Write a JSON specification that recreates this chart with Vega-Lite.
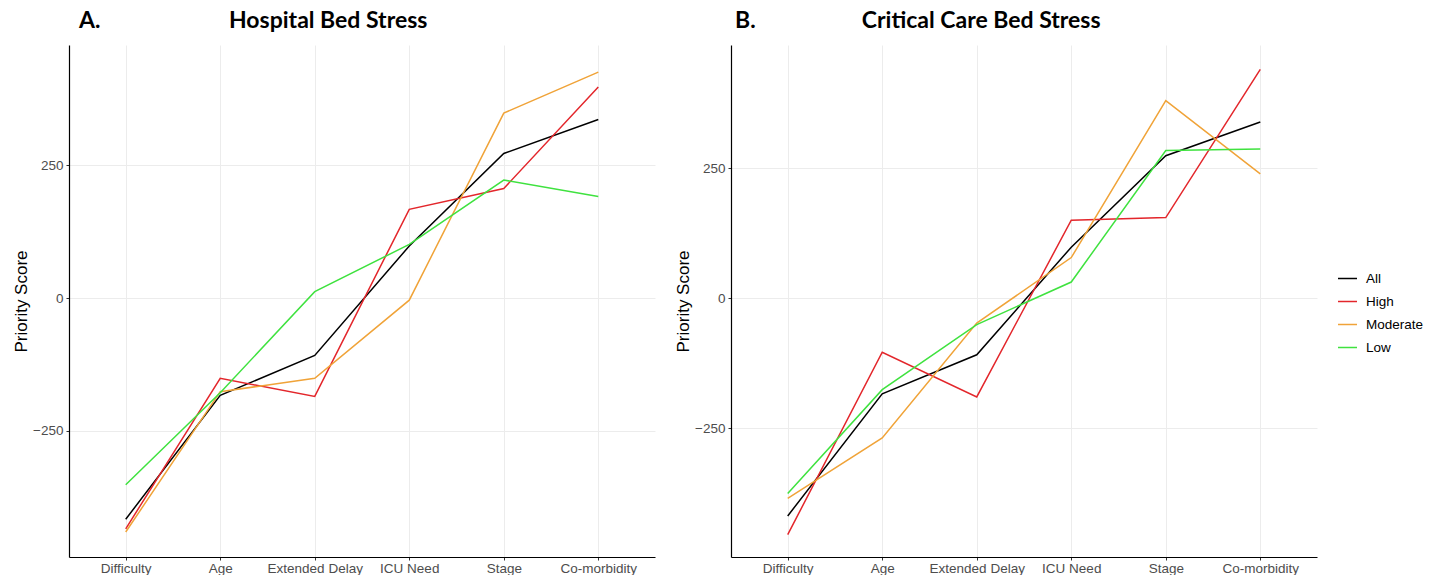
{
  "$schema": "https://vega.github.io/schema/vega-lite/v6.json",
  "padding": {"left": 12, "top": 10, "right": 5, "bottom": 0},
  "background": "white",
  "datasets": {
    "hospital": [
      {"factor": "Difficulty", "group": "All", "score": -416},
      {"factor": "Age", "group": "All", "score": -183},
      {"factor": "Extended Delay", "group": "All", "score": -108},
      {"factor": "ICU Need", "group": "All", "score": 98},
      {"factor": "Stage", "group": "All", "score": 272},
      {"factor": "Co-morbidity", "group": "All", "score": 336},
      {"factor": "Difficulty", "group": "High", "score": -434},
      {"factor": "Age", "group": "High", "score": -151},
      {"factor": "Extended Delay", "group": "High", "score": -185},
      {"factor": "ICU Need", "group": "High", "score": 167},
      {"factor": "Stage", "group": "High", "score": 206},
      {"factor": "Co-morbidity", "group": "High", "score": 397},
      {"factor": "Difficulty", "group": "Moderate", "score": -440},
      {"factor": "Age", "group": "Moderate", "score": -176},
      {"factor": "Extended Delay", "group": "Moderate", "score": -151},
      {"factor": "ICU Need", "group": "Moderate", "score": -4},
      {"factor": "Stage", "group": "Moderate", "score": 348},
      {"factor": "Co-morbidity", "group": "Moderate", "score": 425},
      {"factor": "Difficulty", "group": "Low", "score": -351},
      {"factor": "Age", "group": "Low", "score": -178},
      {"factor": "Extended Delay", "group": "Low", "score": 12},
      {"factor": "ICU Need", "group": "Low", "score": 101},
      {"factor": "Stage", "group": "Low", "score": 222},
      {"factor": "Co-morbidity", "group": "Low", "score": 191}
    ],
    "critical": [
      {"factor": "Difficulty", "group": "All", "score": -419},
      {"factor": "Age", "group": "All", "score": -184},
      {"factor": "Extended Delay", "group": "All", "score": -109},
      {"factor": "ICU Need", "group": "All", "score": 98},
      {"factor": "Stage", "group": "All", "score": 274},
      {"factor": "Co-morbidity", "group": "All", "score": 339},
      {"factor": "Difficulty", "group": "High", "score": -455},
      {"factor": "Age", "group": "High", "score": -104},
      {"factor": "Extended Delay", "group": "High", "score": -190},
      {"factor": "ICU Need", "group": "High", "score": 150},
      {"factor": "Stage", "group": "High", "score": 155},
      {"factor": "Co-morbidity", "group": "High", "score": 440},
      {"factor": "Difficulty", "group": "Moderate", "score": -385},
      {"factor": "Age", "group": "Moderate", "score": -269},
      {"factor": "Extended Delay", "group": "Moderate", "score": -48},
      {"factor": "ICU Need", "group": "Moderate", "score": 78},
      {"factor": "Stage", "group": "Moderate", "score": 380},
      {"factor": "Co-morbidity", "group": "Moderate", "score": 239},
      {"factor": "Difficulty", "group": "Low", "score": -376},
      {"factor": "Age", "group": "Low", "score": -176},
      {"factor": "Extended Delay", "group": "Low", "score": -51},
      {"factor": "ICU Need", "group": "Low", "score": 31},
      {"factor": "Stage", "group": "Low", "score": 284},
      {"factor": "Co-morbidity", "group": "Low", "score": 287}
    ]
  },
  "config": {
    "view": {"stroke": null},
    "font": "Liberation Sans",
    "axis": {
      "domainColor": "#000000",
      "domainWidth": 1.2,
      "tickColor": "#333333",
      "tickSize": 3,
      "labelColor": "#4d4d4d",
      "labelFont": "Liberation Sans",
      "labelFontSize": 13.5,
      "gridColor": "#ececec",
      "gridWidth": 1,
      "titleFont": "Liberation Sans",
      "titleFontWeight": "normal",
      "titleColor": "#000000",
      "titleFontSize": 17
    },
    "title": {
      "font": "Lato",
      "fontWeight": "bold",
      "fontSize": 23,
      "color": "#000000",
      "anchor": "start",
      "frame": "group",
      "offset": 12
    },
    "legend": {
      "labelFont": "Liberation Sans",
      "labelFontSize": 13.5,
      "labelColor": "#000000",
      "symbolStrokeWidth": 1.5,
      "symbolSize": 360,
      "rowPadding": 6,
      "labelOffset": 8,
      "title": null
    }
  },
  "spacing": 19,
  "hconcat": [
    {
      "width": 586,
      "height": 512,
      "title": {"text": "A.\u00a0\u00a0\u00a0\u00a0\u00a0\u00a0\u00a0\u00a0\u00a0\u00a0\u00a0\u00a0\u00a0\u00a0\u00a0\u00a0\u00a0\u00a0\u00a0\u00a0\u00a0\u00a0\u00a0Hospital Bed Stress", "dx": 10},
      "data": {"name": "hospital"},
      "mark": {"type": "line", "strokeWidth": 1.5},
      "encoding": {
        "x": {
          "field": "factor", "type": "nominal", "sort": null,
          "scale": {"type": "point", "padding": 0.6},
          "axis": {"title": null, "labelAngle": 0, "grid": true, "labelPadding": 1}
        },
        "y": {
          "field": "score", "type": "quantitative",
          "scale": {"domain": [-487, 476], "nice": false, "zero": false},
          "axis": {"title": "Priority Score", "values": [-250, 0, 250], "titlePadding": 2, "labelPadding": 3}
        },
        "color": {
          "field": "group", "type": "nominal",
          "scale": {"domain": ["All", "High", "Moderate", "Low"], "range": ["#000000", "#e3262b", "#f0a338", "#3fe23f"]},
          "legend": {"orient": "none", "legendX": 1268, "legendY": 223}
        }
      }
    },
    {
      "width": 586,
      "height": 512,
      "title": {"text": "B.\u00a0\u00a0\u00a0\u00a0\u00a0\u00a0\u00a0\u00a0\u00a0\u00a0\u00a0\u00a0\u00a0\u00a0\u00a0\u00a0\u00a0\u00a0\u00a0Critical Care Bed Stress", "dx": 4},
      "data": {"name": "critical"},
      "mark": {"type": "line", "strokeWidth": 1.5},
      "encoding": {
        "x": {
          "field": "factor", "type": "nominal", "sort": null,
          "scale": {"type": "point", "padding": 0.6},
          "axis": {"title": null, "labelAngle": 0, "grid": true, "labelPadding": 1}
        },
        "y": {
          "field": "score", "type": "quantitative",
          "scale": {"domain": [-498, 487], "nice": false, "zero": false},
          "axis": {"title": "Priority Score", "values": [-250, 0, 250], "titlePadding": 2, "labelPadding": 3}
        },
        "color": {
          "field": "group", "type": "nominal",
          "scale": {"domain": ["All", "High", "Moderate", "Low"], "range": ["#000000", "#e3262b", "#f0a338", "#3fe23f"]},
          "legend": {"orient": "none", "legendX": 1268, "legendY": 223}
        }
      }
    }
  ]
}
